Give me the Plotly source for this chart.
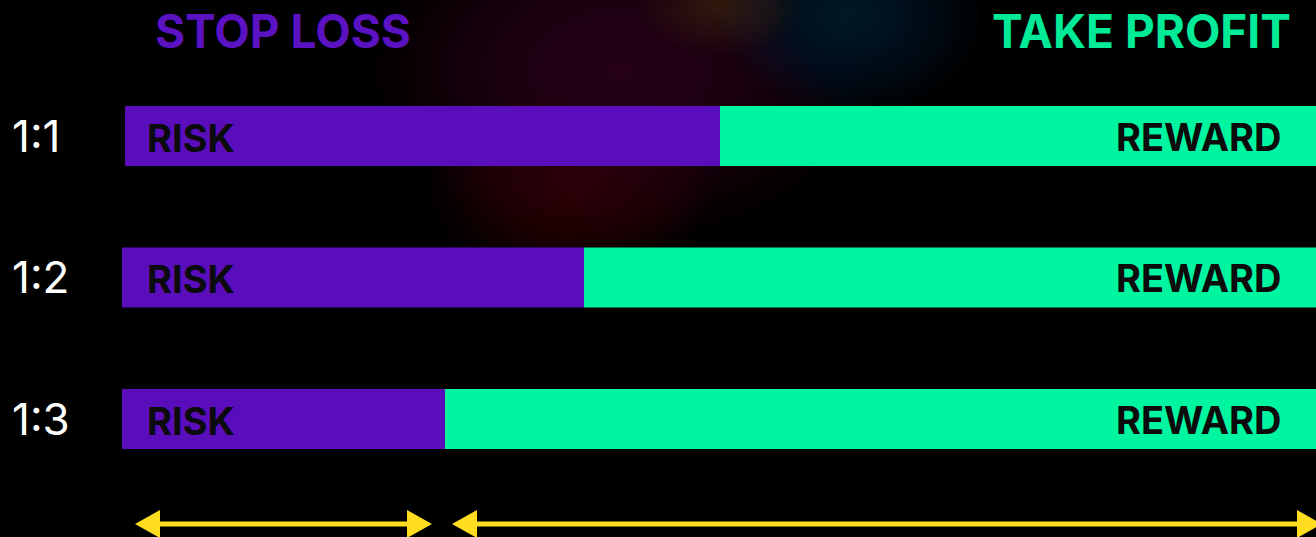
import plotly.graph_objects as go

# data (pixel-ish units along x)
ratios = ["1:1", "1:2", "1:3"]
risk_start = [125, 122, 122]
risk = [595, 462, 323]
reward = [600, 736, 875]

# bottom arrows (x spans) and glow blobs (cx, cy, rx, ry, rgb)
arrow_spans = [(135, 432), (452, 1322)]
glows = [
    (620, 70, 250, 170, "80,10,35"),
    (570, 190, 140, 100, "70,8,28"),
    (850, 15, 130, 100, "0,40,80"),
    (720, 5, 80, 50, "70,45,30"),
]

W, H = 1316, 537
PURPLE = "#590dbb"
GREEN = "#00f5a0"
YELLOW = "#ffdc1f"

reward_start = [s + r for s, r in zip(risk_start, risk)]

fig = go.Figure()
fig.add_trace(go.Bar(
    y=ratios, x=risk, base=risk_start, orientation="h",
    marker=dict(color=PURPLE, line=dict(width=0)), width=0.424,
    hoverinfo="skip", showlegend=False,
))
fig.add_trace(go.Bar(
    y=ratios, x=reward, base=reward_start, orientation="h",
    marker=dict(color=GREEN, line=dict(width=0)), width=0.424,
    hoverinfo="skip", showlegend=False,
))

shapes = []
# soft background glow: stacked transparent ellipses
for cx, cy, rx, ry, rgb in glows:
    n = 24
    for i in range(n):
        f = 1 - i / n
        shapes.append(dict(
            type="circle", xref="paper", yref="paper", layer="below",
            x0=(cx - rx * f) / W, x1=(cx + rx * f) / W,
            y0=1 - (cy + ry * f) / H, y1=1 - (cy - ry * f) / H,
            fillcolor=f"rgba({rgb},0.045)", line=dict(width=0),
        ))

# yellow double arrows
ay = 524
head_len, head_half = 25, 14
for x0, x1 in arrow_spans:
    shapes.append(dict(
        type="line", xref="x", yref="paper",
        x0=x0 + head_len - 2, x1=x1 - head_len + 2,
        y0=1 - ay / H, y1=1 - ay / H,
        line=dict(color=YELLOW, width=5),
    ))
    for tip, back in [(x0, x0 + head_len), (x1, x1 - head_len)]:
        path = (f"M {tip},{1 - ay / H} L {back},{1 - (ay - head_half) / H} "
                f"L {back},{1 - (ay + head_half) / H} Z")
        shapes.append(dict(
            type="path", xref="x", yref="paper", path=path,
            fillcolor=YELLOW, line=dict(width=0),
        ))

annotations = []
for r in ratios:
    annotations.append(dict(
        x=10, y=r, xref="x", yref="y", text=r, showarrow=False,
        xanchor="left", yanchor="middle",
        font=dict(family="Inter", size=44, color="white"),
    ))
    annotations.append(dict(
        x=145, y=r, xref="x", yref="y", text="RISK", showarrow=False,
        xanchor="left", yanchor="middle", yshift=-2,
        font=dict(family="Inter", size=38, color="#0b0b0b", weight=700),
    ))
    annotations.append(dict(
        x=1284, y=r, xref="x", yref="y", text="REWARD", showarrow=False,
        xanchor="right", yanchor="middle", yshift=-1,
        font=dict(family="Inter", size=38, color="#0b0b0b", weight=700),
    ))

annotations.append(dict(
    x=282.5 / W, y=1 - 31.5 / H, xref="paper", yref="paper",
    text="STOP LOSS", showarrow=False, xanchor="center", yanchor="middle",
    font=dict(family="Inter", size=46, color="#5a12c2", weight=700),
))
annotations.append(dict(
    x=1141.5 / W, y=1 - 31.5 / H, xref="paper", yref="paper",
    text="TAKE PROFIT", showarrow=False, xanchor="center", yanchor="middle",
    font=dict(family="Inter", size=46, color="#00ea98", weight=700),
))

fig.update_layout(
    width=W, height=H,
    margin=dict(l=0, r=0, t=0, b=0),
    paper_bgcolor="black", plot_bgcolor="black",
    barmode="overlay",
    xaxis=dict(range=[0, W], visible=False, fixedrange=True),
    yaxis=dict(type="category", range=[2.834, -0.961], visible=False,
               fixedrange=True),
    shapes=shapes, annotations=annotations,
)

fig.write_html(
    "out.html",
    config={"displayModeBar": False},
    post_script="document.body.style.margin='0';"
                "document.body.style.background='black';",
)
